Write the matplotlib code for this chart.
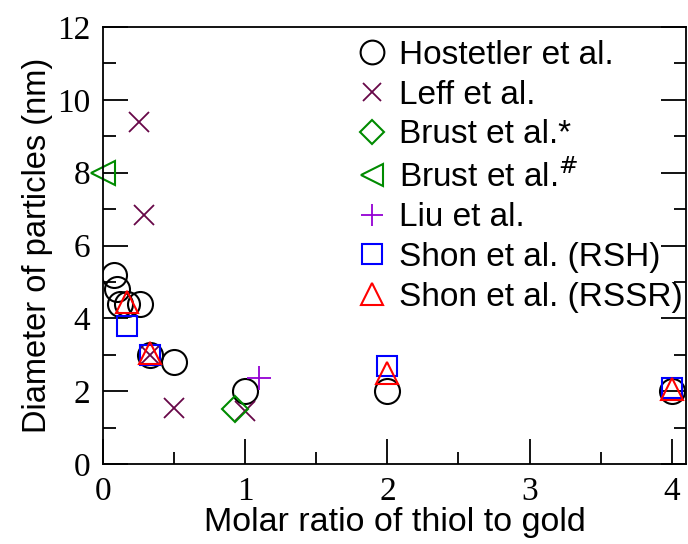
import matplotlib
matplotlib.use("Agg")
import matplotlib.pyplot as plt
from matplotlib.ticker import MultipleLocator

# molar ratio thiol:gold  vs  particle diameter (nm)
host_x = [0.08, 0.10, 0.12, 0.17, 0.26, 0.33, 0.50, 1.0, 2.0, 4.0]
host_y = [5.2, 4.8, 4.4, 4.4, 4.4, 3.0, 2.8, 2.0, 2.0, 2.0]

leff_x = [0.25, 0.29, 0.33, 0.50, 1.0]
leff_y = [9.4, 6.85, 3.0, 1.55, 1.45]

brust1_x = [0.93]
brust1_y = [1.5]

brust2_x = [0.0]
brust2_y = [8.0]

liu_x = [1.1]
liu_y = [2.35]

rsh_x = [0.17, 0.33, 2.0, 4.0]
rsh_y = [3.8, 3.0, 2.7, 2.1]

rssr_x = [0.17, 0.33, 2.0, 4.0]
rssr_y = [4.45, 3.05, 2.5, 2.05]

sans = 'Liberation Sans'
serif = 'Liberation Serif'

fig = plt.figure(figsize=(6.88, 5.44), dpi=100)
ax = fig.add_axes([103/688, 80/544, 583/688, 437/544])

ax.plot(host_x, host_y, 'o', mfc='none', mec='black', mew=1.5, ms=18, label='Hostetler et al.')
ax.plot(leff_x, leff_y, 'x', color='#670748', mew=1.3, ms=14, label='Leff et al.')
ax.plot(brust1_x, brust1_y, 'D', mfc='none', mec='#008b00', mew=1.5, ms=13, label='Brust et al.*')
ax.plot(brust2_x, brust2_y, '<', mfc='none', mec='#008b00', mew=1.5, ms=17,
        label='Brust et al.$^{\\#}$', clip_on=False)
ax.plot(liu_x, liu_y, '+', color='#9400d3', mew=1.3, ms=17, label='Liu et al.')
ax.plot(rsh_x, rsh_y, 's', mfc='none', mec='blue', mew=1.5, ms=15, label='Shon et al. (RSH)')
ax.plot(rssr_x, rssr_y, '^', mfc='none', mec='red', mew=1.5, ms=16, label='Shon et al. (RSSR)')

ax.set_xlim(0, 4.1)
ax.set_ylim(0, 12)
ax.xaxis.set_major_locator(MultipleLocator(1))
ax.xaxis.set_minor_locator(MultipleLocator(0.5))
ax.yaxis.set_major_locator(MultipleLocator(2))
ax.yaxis.set_minor_locator(MultipleLocator(1))
ax.tick_params(which='both', direction='in', top=False, right=True, width=1.3)
ax.tick_params(which='major', length=18, pad=9)
ax.tick_params(which='minor', length=9)
for lab in ax.get_xticklabels() + ax.get_yticklabels():
    lab.set_fontfamily(serif)
    lab.set_fontsize(24)
for s in ax.spines.values():
    s.set_linewidth(1.3)

ax.set_xlabel('Molar ratio of thiol to gold', fontfamily=sans, fontsize=24.5, labelpad=0)
ax.set_ylabel('Diameter of particles (nm)', fontfamily=sans, fontsize=23.5, labelpad=3)

ax.legend(loc='upper left', bbox_to_anchor=(352/688, 1 - 40/544), bbox_transform=fig.transFigure,
          frameon=False, prop={'family': sans, 'size': 24},
          handletextpad=0.2, labelspacing=0.26, borderaxespad=0, borderpad=0,
          handlelength=1.2, markerscale=0.95)

fig.savefig('out.png', dpi=100)
